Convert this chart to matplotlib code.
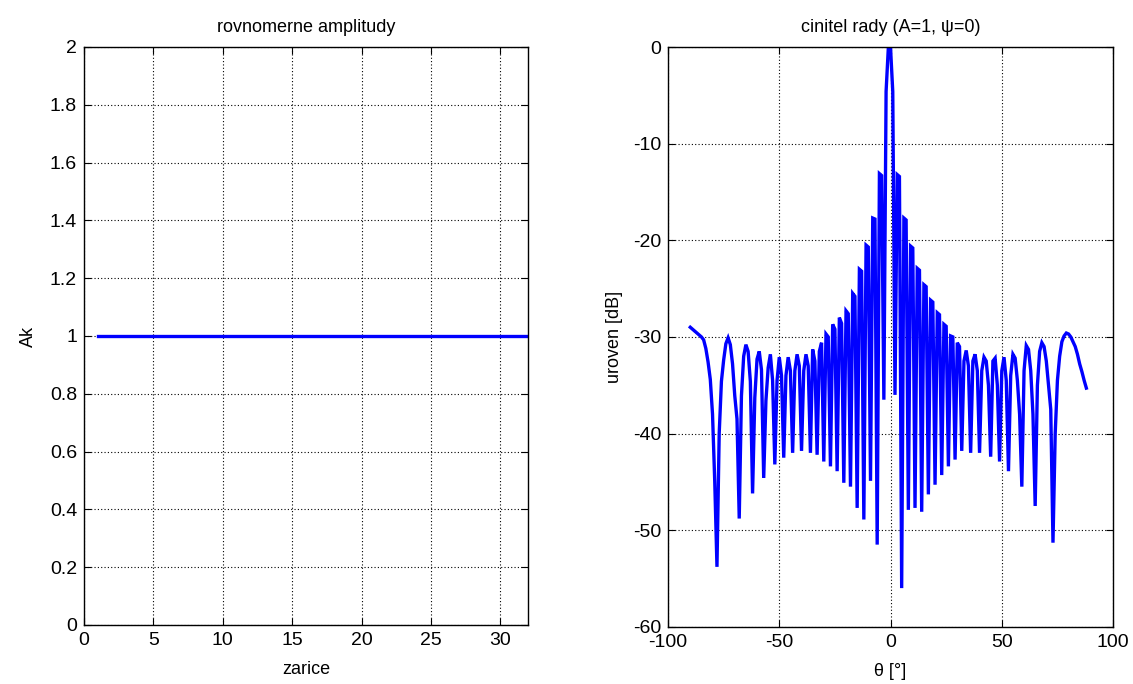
import numpy as np
import matplotlib
matplotlib.use("Agg")
import matplotlib.pyplot as plt

plt.rcParams['font.family'] = ['Liberation Sans', 'DejaVu Sans']
plt.rcParams['axes.unicode_minus'] = False

# left panel: uniform amplitudes of the 32 elements
element_idx = list(range(1, 33))
amplitude = [1.0] * 32

# right panel: array factor level, 1 deg steps
theta_start = -90
level_db = [
    -29.0, -29.2, -29.4, -29.6, -29.8, -30.0, -30.3, -31.2, -32.6, -34.4,   # -90..-81
    -38.0, -45.0, -53.8, -40.0, -34.6, -32.4, -30.7, -30.1, -30.8, -32.8,   # -80..-71
    -36.1, -38.5, -48.8, -36.1, -32.0, -30.8, -31.5, -34.6, -46.2, -36.3,   # -70..-61
    -32.3, -31.5, -33.4, -44.6, -36.6, -33.2, -31.8, -34.5, -43.2, -34.5,   # -60..-51
    -32.1, -34.0, -42.5, -34.0, -32.1, -33.5, -42.0, -33.5, -31.8, -33.0,   # -50..-41
    -41.8, -33.5, -31.8, -33.0, -42.0, -31.3, -32.5, -42.2, -31.5, -30.6,   # -40..-31
    -42.9, -29.7, -30.0, -43.4, -28.7, -29.2, -43.9, -28.0, -28.6, -45.1,   # -30..-21
    -27.3, -27.6, -45.5, -25.5, -25.8, -47.7, -23.0, -23.2, -48.9, -20.5,   # -20..-11
    -20.7, -44.9, -17.7, -17.8, -51.5, -13.1, -13.3, -36.5, -4.6, -0.1,     # -10..-1
    -0.1, -4.6, -36.0, -13.2, -13.4, -56.0, -17.7, -17.9, -47.9, -20.6,     # 0..9
    -20.8, -47.7, -22.9, -23.1, -48.1, -24.6, -24.8, -46.3, -26.2, -26.4,   # 10..19
    -45.3, -27.5, -27.7, -44.3, -28.7, -28.9, -43.4, -29.9, -30.0, -42.7,   # 20..29
    -30.6, -31.0, -41.8, -32.5, -31.4, -33.0, -42.0, -32.5, -31.8, -33.5,   # 30..39
    -42.0, -33.5, -32.1, -32.5, -35.0, -42.4, -32.5, -32.2, -35.0, -42.9,   # 40..49
    -33.5, -32.1, -34.5, -43.9, -34.0, -31.8, -32.2, -34.5, -38.0, -45.5,   # 50..59
    -33.5, -30.9, -31.3, -33.5, -38.0, -47.5, -35.0, -31.5, -30.6, -31.0,   # 60..69
    -32.5, -35.0, -37.5, -51.3, -40.0, -34.5, -32.0, -30.5, -29.9, -29.6,   # 70..79
    -29.7, -30.0, -30.5, -31.0, -31.8, -32.8, -33.6, -34.5, -35.3,          # 80..88
]
theta_deg = theta_start + np.arange(len(level_db))

fig = plt.figure(figsize=(11.33, 6.84), dpi=100)
ax1 = fig.add_axes([0.0741, 0.0863, 0.392, 0.845])
ax2 = fig.add_axes([0.5896, 0.0837, 0.3928, 0.8475])

blue = (0, 0, 1)
grid_kw = dict(color='k', linestyle=(0, (1, 2)), linewidth=0.8)

ax1.plot(element_idx, amplitude, color=blue, lw=2.4)
ax1.set_xlim(0, 32)
ax1.set_ylim(0, 2)
ax1.set_xticks([0, 5, 10, 15, 20, 25, 30])
ax1.set_yticks(np.round(np.arange(0, 2.01, 0.2), 1))
ax1.set_yticklabels(['0', '0.2', '0.4', '0.6', '0.8', '1', '1.2', '1.4', '1.6', '1.8', '2'])
ax1.set_title('rovnomerne amplitudy', fontsize=13, pad=11)
ax1.set_xlabel('zarice', fontsize=13, labelpad=9)
ax1.set_ylabel('Ak', fontsize=13, labelpad=9)

ax2.plot(theta_deg, level_db, color=blue, lw=2.4, solid_joinstyle='miter')
ax2.set_xlim(-100, 100)
ax2.set_ylim(-60, 0)
ax2.set_xticks([-100, -50, 0, 50, 100])
ax2.set_yticks([-60, -50, -40, -30, -20, -10, 0])
ax2.set_title('cinitel rady (A=1, \u03c8=0)', fontsize=13, pad=11)
ax2.set_xlabel('\u03b8 [\u00b0]', fontsize=13, labelpad=9)
ax2.set_ylabel('uroven [dB]', fontsize=13, labelpad=7)

for ax in (ax1, ax2):
    ax.grid(True, **grid_kw)
    ax.tick_params(direction='in', top=True, right=True, labelsize=14, length=5, width=0.8, pad=5)
    for s in ax.spines.values():
        s.set_linewidth(1.0)

fig.savefig('out.png', dpi=100)
